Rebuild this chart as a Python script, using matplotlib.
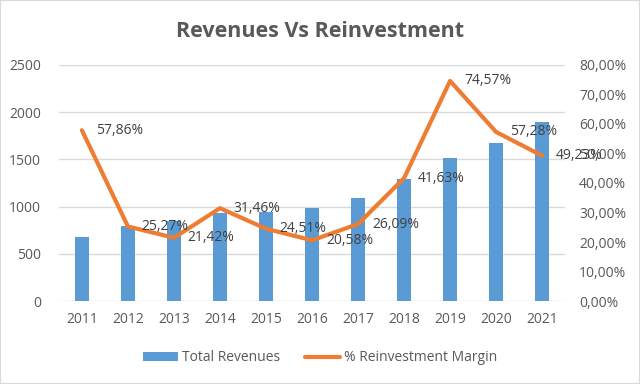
import numpy as np
import matplotlib
matplotlib.use('Agg')
import matplotlib.pyplot as plt
from matplotlib.ticker import FuncFormatter, MultipleLocator

years = ['2011', '2012', '2013', '2014', '2015', '2016', '2017', '2018', '2019', '2020', '2021']
revenues = [680, 790, 850, 930, 940, 982, 1088, 1290, 1511, 1670, 1900]
margin = [57.86, 25.27, 21.42, 31.46, 24.51, 20.58, 26.09, 41.63, 74.57, 57.28, 49.23]

grey = '#595959'
plt.rcParams['font.family'] = ['Open Sans', 'DejaVu Sans']

fig = plt.figure(figsize=(6.4, 3.84), dpi=100)
ax = fig.add_axes([0.092, 0.216, 0.791, 0.615])
ax2 = ax.twinx()

x = np.arange(len(years))
bars = ax.bar(x, revenues, width=0.3, color='#5b9bd5', label='Total Revenues', zorder=2)
line, = ax2.plot(x, margin, color='#ed7d31', lw=3, label='% Reinvestment Margin',
                 solid_capstyle='round', solid_joinstyle='round', zorder=3)

# data labels to the right of each point
for xi, m in zip(x, margin):
    ax2.annotate(f'{m:.2f}%'.replace('.', ','), (xi, m), xytext=(10, 0),
                 textcoords='offset points', va='center', ha='left',
                 fontsize=10, color='#404040', zorder=4)

ax.set_xlim(-0.5, len(years) - 0.5)
ax.set_ylim(0, 2500)
ax.yaxis.set_major_locator(MultipleLocator(500))
ax2.set_ylim(0, 80)
ax2.yaxis.set_major_locator(MultipleLocator(10))
ax2.yaxis.set_major_formatter(FuncFormatter(lambda v, p: f'{v:.2f}%'.replace('.', ',')))

ax.set_xticks(x)
ax.set_xticklabels(years)
ax.grid(axis='y', color='#d9d9d9', lw=1, zorder=0)
ax.set_axisbelow(True)
for a in (ax, ax2):
    for s in a.spines.values():
        s.set_visible(False)
    a.tick_params(length=0, colors=grey, labelsize=10)
ax.tick_params(axis='y', pad=13)
ax.tick_params(axis='x', pad=8)
ax2.tick_params(axis='y', pad=10)

fig.text(0.5, 0.918, 'Revenues Vs Reinvestment', ha='center', va='center',
         fontsize=15.5, fontweight='bold', color=grey)

fig.legend([bars, line], ['Total Revenues', '% Reinvestment Margin'], loc='center',
           bbox_to_anchor=(0.5, 0.068), ncol=2, frameon=False, fontsize=10,
           labelcolor=grey, handlelength=2.5, columnspacing=1.8, handletextpad=0.3)

fig.patches.append(plt.Rectangle((0, 0), 1, 1, transform=fig.transFigure, fill=False,
                                 edgecolor='#d9d9d9', lw=1.5))

fig.savefig('out.png', dpi=100)
